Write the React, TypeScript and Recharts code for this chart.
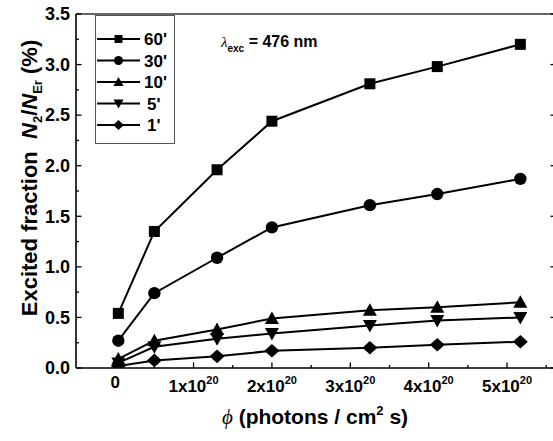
import React from 'react';
import { LineChart, Line, XAxis, YAxis, Legend } from 'recharts';

// photon flux, in units of 1e20 photons / cm^2 s
const flux = [0.04, 0.5, 1.3, 2.0, 3.25, 4.11, 5.17];
const s60 = [0.54, 1.35, 1.96, 2.44, 2.81, 2.98, 3.2];
const s30 = [0.27, 0.74, 1.09, 1.39, 1.61, 1.72, 1.87];
const s10 = [0.09, 0.27, 0.38, 0.49, 0.57, 0.6, 0.65];
const s5 = [0.05, 0.21, 0.29, 0.34, 0.42, 0.47, 0.5];
const s1 = [0.02, 0.075, 0.115, 0.17, 0.2, 0.23, 0.26];
const seriesNames = ["60'", "30'", "10'", "5'", "1'"];
const seriesKeys = ['s60', 's30', 's10', 's5', 's1'];
const shapes = ['square', 'circle', 'up', 'down', 'diamond'];
const xTicks = [0, 0.5, 1, 1.5, 2, 2.5, 3, 3.5, 4, 4.5, 5, 5.5];
const yTicks = [0, 0.25, 0.5, 0.75, 1, 1.25, 1.5, 1.75, 2, 2.25, 2.5, 2.75, 3, 3.25, 3.5];
const xDomain = [-0.5, 5.625];
const yDomain = [0, 3.5];

const data = flux.map((x, i) => ({
  x,
  s60: s60[i],
  s30: s30[i],
  s10: s10[i],
  s5: s5[i],
  s1: s1[i],
}));

const FONT = '"Liberation Sans", Arial, Helvetica, sans-serif';
const SERIF = '"Liberation Serif", "DejaVu Serif", serif';

function Marker({ shape, cx, cy, s }: { shape: string; cx: number; cy: number; s: number }) {
  if (cx == null || cy == null) return null;
  if (shape === 'square') {
    const h = 5.5 * s;
    return <rect x={cx - h} y={cy - h} width={2 * h} height={2 * h} fill="#000" />;
  }
  if (shape === 'circle') {
    return <circle cx={cx} cy={cy} r={6.2 * s} fill="#000" />;
  }
  if (shape === 'up') {
    const w = 7 * s;
    return <polygon points={`${cx - w},${cy + 5.5 * s} ${cx + w},${cy + 5.5 * s} ${cx},${cy - 7 * s}`} fill="#000" />;
  }
  if (shape === 'down') {
    const w = 7 * s;
    return <polygon points={`${cx - w},${cy - 5.5 * s} ${cx + w},${cy - 5.5 * s} ${cx},${cy + 7 * s}`} fill="#000" />;
  }
  const d = 7.5 * s;
  const v = 6.8 * s;
  return <polygon points={`${cx - d},${cy} ${cx},${cy - v} ${cx + d},${cy} ${cx},${cy + v}`} fill="#000" />;
}

const XTick = (props: any) => {
  const { x, y, payload } = props;
  const v = payload.value;
  const major = Math.abs(v - Math.round(v)) < 1e-6;
  return (
    <g>
      <line x1={x} x2={x} y1={y} y2={y - (major ? 5.5 : 3)} stroke="#000" strokeWidth={1.3} />
      {major && v === 0 && (
        <text x={x} y={y + 20} textAnchor="middle" fontFamily={FONT} fontWeight="bold" fontSize={17} fill="#000">0</text>
      )}
      {major && v !== 0 && (
        <text x={x} y={y + 23.5} textAnchor="middle" fontFamily={FONT} fontWeight="bold" fontSize={17} fill="#000">
          {`${v}x10`}
          <tspan dy={-8} fontSize={11}>20</tspan>
        </text>
      )}
    </g>
  );
};

const YTick = (props: any) => {
  const { x, y, payload } = props;
  const v = payload.value;
  const major = Math.abs(v * 2 - Math.round(v * 2)) < 1e-6;
  return (
    <g>
      <line x1={x} x2={x + (major ? 5.5 : 3)} y1={y} y2={y} stroke="#000" strokeWidth={1.3} />
      {major && (
        <text x={x - 6} y={y + 6.3} textAnchor="end" fontFamily={FONT} fontWeight="bold" fontSize={18} fill="#000">
          {v.toFixed(1)}
        </text>
      )}
    </g>
  );
};

const RTick = (props: any) => {
  const { x, y, payload } = props;
  const v = payload.value;
  const major = Math.abs(v * 2 - Math.round(v * 2)) < 1e-6;
  return <line x1={x} x2={x - (major ? 5.5 : 3)} y1={y} y2={y} stroke="#000" strokeWidth={1.3} />;
};

const YLabel = () => (
  <text
    x={37}
    y={178}
    transform="rotate(-90, 37, 178)"
    textAnchor="middle"
    fontFamily={FONT}
    fontWeight="bold"
    fontSize={22}
    fill="#000"
  >
    Excited fraction{'\u00a0\u00a0'}
    <tspan fontStyle="italic">N</tspan>
    <tspan dy={5} fontSize={13}>2</tspan>
    <tspan dy={-5}>/</tspan>
    <tspan fontStyle="italic">N</tspan>
    <tspan dy={5} fontSize={13}>Er</tspan>
    <tspan dy={-5}>{'\u00a0(%)'}</tspan>
  </text>
);

const XLabel = () => (
  <text x={315} y={424} textAnchor="middle" fontFamily={FONT} fontWeight="bold" fontSize={21} fill="#000">
    <tspan fontFamily={SERIF} fontStyle="italic" fontWeight="normal">ϕ</tspan>
    <tspan>{' (photons / cm'}</tspan>
    <tspan dy={-9} fontSize={13}>2</tspan>
    <tspan dy={9}>{' s)'}</tspan>
  </text>
);

const Annotation = () => (
  <text x={221} y={47} fontFamily={FONT} fontWeight="bold" fontSize={16} fill="#000">
    <tspan fontFamily={SERIF} fontStyle="italic" fontWeight="normal" fontSize={15}>λ</tspan>
    <tspan dy={5} fontSize={10}>exc</tspan>
    <tspan dy={-5}>{' = 476 nm'}</tspan>
  </text>
);

const LegendBox = () => (
  <svg width={80} height={130} style={{ display: 'block' }}>
    <rect x={0.5} y={0.5} width={79} height={128} fill="#fff" stroke="#555" strokeWidth={1} />
    {seriesNames.map((n, i) => {
      const y = 24 + i * 21.5;
      return (
        <g key={n}>
          <line x1={2} x2={45} y1={y} y2={y} stroke="#000" strokeWidth={2} />
          <Marker shape={shapes[i]} cx={23.5} cy={y} s={0.72} />
          <text x={i >= 3 ? 52 : 49} y={y + 6} fontFamily={FONT} fontWeight="bold" fontSize={17} fill="#000">
            {n}
          </text>
        </g>
      );
    })}
  </svg>
);

export default function App() {
  return (
    <div style={{ position: 'absolute', left: 0, top: 0, width: 553, height: 441, overflow: 'hidden', background: '#fff' }}>
      <LineChart width={560} height={441} data={data} margin={{ top: 13, right: 3, bottom: 0, left: 0 }}>
        <XAxis
          dataKey="x"
          type="number"
          domain={xDomain}
          ticks={xTicks}
          interval={0}
          allowDataOverflow
          height={73}
          tickSize={0}
          tickMargin={0}
          tickLine={false}
          axisLine={{ stroke: '#000', strokeWidth: 1.6 }}
          tick={<XTick />}
          label={<XLabel />}
        />
        <XAxis
          xAxisId="top"
          orientation="top"
          dataKey="x"
          type="number"
          domain={xDomain}
          allowDataOverflow
          height={1}
          tick={false}
          tickLine={false}
          axisLine={{ stroke: '#333', strokeWidth: 1.6 }}
          label={<Annotation />}
        />
        <YAxis
          type="number"
          domain={yDomain}
          ticks={yTicks}
          interval={0}
          allowDataOverflow
          width={76}
          tickSize={0}
          tickMargin={0}
          tickLine={false}
          axisLine={{ stroke: '#000', strokeWidth: 1.6 }}
          tick={<YTick />}
          label={<YLabel />}
        />
        <YAxis
          yAxisId="right"
          orientation="right"
          type="number"
          domain={yDomain}
          ticks={yTicks}
          interval={0}
          allowDataOverflow
          width={1}
          tickSize={0}
          tickMargin={0}
          tickLine={false}
          axisLine={{ stroke: '#000', strokeWidth: 1.6 }}
          tick={<RTick />}
        />
        <Legend
          layout="horizontal"
          verticalAlign="middle"
          align="center"
          wrapperStyle={{ position: 'absolute', left: 95, top: 15, width: 80, height: 130 }}
          content={() => <LegendBox />}
        />
        {seriesKeys.map((k, i) => (
          <Line
            key={k}
            dataKey={k}
            name={seriesNames[i]}
            stroke="#000"
            strokeWidth={2}
            isAnimationActive={false}
            dot={(p: any) => <Marker key={`${k}-${p.index}`} shape={shapes[i]} cx={p.cx} cy={p.cy} s={1} />}
            activeDot={false}
          />
        ))}
      </LineChart>
    </div>
  );
}
